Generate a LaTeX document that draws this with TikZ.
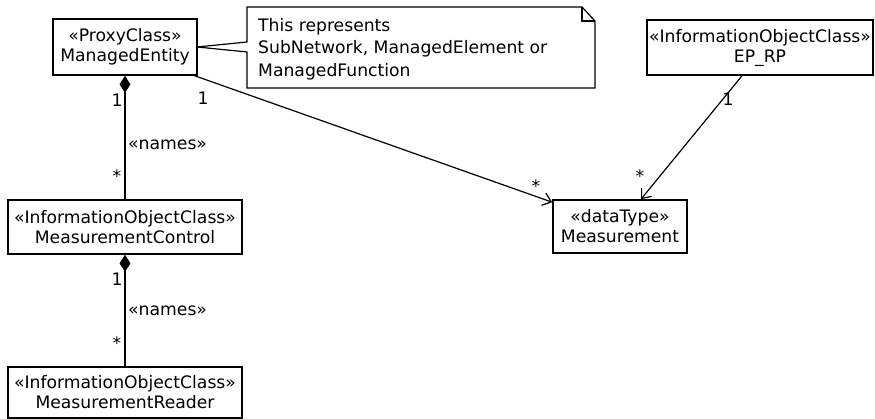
\documentclass[tikz,border=0pt]{standalone}
\usepackage{fontspec}
\setmainfont{DejaVu Sans}
\usetikzlibrary{arrows.meta,calc}
\begin{document}
\begin{tikzpicture}[x=1pt,y=-1pt,
  cls/.style={draw=black, line width=1.6pt, fill=white, align=center, inner sep=0pt,
    font=\fontsize{17.2}{20}\selectfont},
  lbl/.style={font=\fontsize{17.2}{20}\selectfont, inner sep=0pt},
  conn/.style={line width=1.2pt, draw=black},
  comp/.style={conn, {Diamond[length=17pt,width=11pt]}-},
  nav/.style={conn, -{Straight Barb[length=8pt,width=13pt,line width=1.2pt]}}
]
\useasboundingbox (0,0) rectangle (875,419);
% note shape
\draw[line width=1.2pt, fill=white] (247,52) -- (247,88) -- (595,88) -- (595,21) -- (582,7) -- (247,7) -- (247,42) -- (197,47) -- cycle;
\draw[line width=1.2pt] (582,7) -- (582,21) -- (595,21);
\node[lbl, anchor=north west, align=left, font=\fontsize{17.2}{22.5}\selectfont] (note) at (258,18) {This represents\\SubNetwork, ManagedElement or\\ManagedFunction};

\node[cls, minimum width=144pt, minimum height=56pt] (ME) at (125,47) {«ProxyClass»\\ManagedEntity};
\node[cls, minimum width=234pt, minimum height=54pt] (MC) at (125,227) {«InformationObjectClass»\\MeasurementControl};
\node[cls, minimum width=234pt, minimum height=51pt] (MR) at (125,392.5) {«InformationObjectClass»\\MeasurementReader};
\node[cls, minimum width=134pt, minimum height=53pt] (M) at (620,226.5) {«dataType»\\Measurement};
\node[cls, minimum width=226pt, minimum height=55pt] (EP) at (760,47.5) {«InformationObjectClass»\\EP\_RP};

\draw[comp] (ME.south) -- (MC.north);
\draw[comp] (MC.south) -- (MR.north);
\draw[nav] ($(ME.south east)+(-3,0)$) -- ($(M.north west)+(0,3)$);
\draw[nav] ($(EP.south)+(-18,0)$) -- ($(M.north)+(21,0)$);

\node[lbl] (m1) at (117,100) {1};
\node[lbl] (m2) at (117,176) {*};
\node[lbl, anchor=west] (n1) at (128,145) {«names»};
\node[lbl] (m3) at (117,279) {1};
\node[lbl] (m4) at (117,343) {*};
\node[lbl, anchor=west] (n2) at (128,311) {«names»};
\node[lbl] (m5) at (203,98) {1};
\node[lbl] (m6) at (536,186) {*};
\node[lbl] (m7) at (728,99) {1};
\node[lbl] (m8) at (640,176) {*};
\end{tikzpicture}
\end{document}
